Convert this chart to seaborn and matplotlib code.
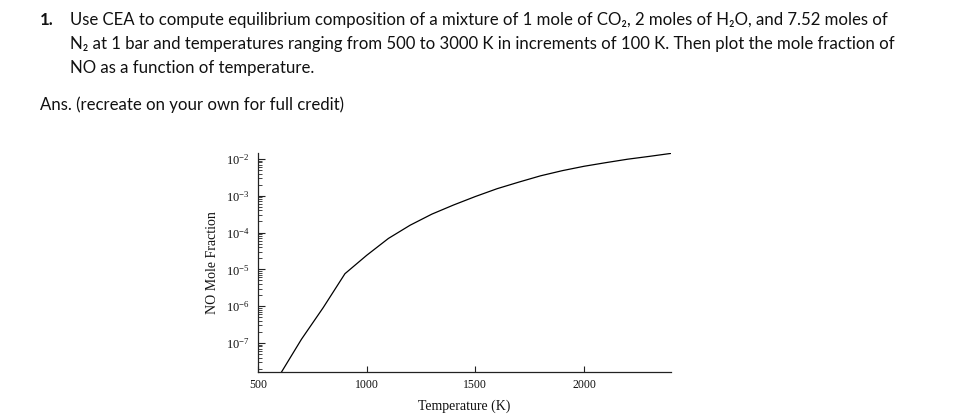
import matplotlib
matplotlib.use("Agg")
import matplotlib.pyplot as plt
import matplotlib.ticker as mticker
import seaborn as sns
import pandas as pd

# ---- data ----
temperature_K = [600, 700, 800, 900, 1000, 1100, 1200, 1300, 1400, 1500,
                 1600, 1700, 1800, 1900, 2000, 2100, 2200, 2300, 2400]
no_mole_fraction = [1.35e-8, 1.26e-7, 9.1e-7, 7.6e-6, 2.4e-5, 6.9e-5, 1.58e-4,
                    3.16e-4, 5.6e-4, 9.5e-4, 1.55e-3, 2.34e-3, 3.47e-3, 4.79e-3,
                    6.3e-3, 7.9e-3, 9.8e-3, 1.17e-2, 1.41e-2]
x_ticks = [500, 1000, 1500, 2000]
y_ticks = [1e-7, 1e-6, 1e-5, 1e-4, 1e-3, 1e-2]

question_lines = [
    "Use CEA to compute equilibrium composition of a mixture of 1 mole of CO\u2082, 2 moles of H\u2082O, and 7.52 moles of",
    "N\u2082 at 1 bar and temperatures ranging from 500 to 3000 K in increments of 100 K. Then plot the mole fraction of",
    "NO as a function of temperature.",
]
answer_line = "Ans. (recreate on your own for full credit)"

sns.set_style("ticks")
plt.rcParams["font.family"] = ["Lato", "DejaVu Sans"]
plt.rcParams["mathtext.fontset"] = "custom"
plt.rcParams["mathtext.rm"] = "Liberation Serif"
plt.rcParams["mathtext.it"] = "Liberation Serif:italic"
plt.rcParams["mathtext.bf"] = "Liberation Serif:bold"

W, H = 963, 420
fig = plt.figure(figsize=(W / 100, H / 100), dpi=100)
fig.patch.set_facecolor("white")

def fy(y):
    return 1 - y / H

# ---- document text ----
text_fam = ["Lato", "DejaVu Sans"]
fs = 13.5
tc = "#111111"
t_num = fig.text(40 / W, fy(25), "1.", fontsize=fs, fontweight="bold", family=text_fam, va="baseline", color=tc)
t1 = fig.text(70 / W, fy(25), question_lines[0], fontsize=fs, family=text_fam, va="baseline", color=tc)
t2 = fig.text(70 / W, fy(49), question_lines[1], fontsize=fs, family=text_fam, va="baseline", color=tc)
t3 = fig.text(70 / W, fy(72.5), question_lines[2], fontsize=fs, family=text_fam, va="baseline", color=tc)
t4 = fig.text(40 / W, fy(110), answer_line, fontsize=fs, family=text_fam, va="baseline", color=tc)

fig.canvas.draw()
r = fig.canvas.get_renderer()
w1 = t1.get_window_extent(r).width
scale = 817.0 / w1
for t in (t_num, t1, t2, t3, t4):
    t.set_fontsize(fs * scale)

# ---- chart ----
ax = fig.add_axes([258 / W, (H - 372) / H, (671 - 258) / W, 219 / H])
df = pd.DataFrame({"Temperature (K)": temperature_K, "NO Mole Fraction": no_mole_fraction})
sns.lineplot(data=df, x="Temperature (K)", y="NO Mole Fraction", ax=ax,
             color="black", linewidth=0.9)
ax.set_yscale("log")
ax.set_xlim(500, 2400)
ax.set_ylim(10 ** -7.79, 10 ** -1.84)

serif = "Liberation Serif"
ax.set_xticks(x_ticks)
ax.set_xticklabels([str(v) for v in x_ticks], family=serif, fontsize=8.5)
ax.yaxis.set_major_locator(mticker.FixedLocator(y_ticks))
ax.yaxis.set_major_formatter(mticker.LogFormatterSciNotation())
ax.yaxis.set_minor_locator(mticker.LogLocator(base=10, subs=[2, 3, 4, 5, 6, 7, 8, 9], numticks=20))
ax.yaxis.set_minor_formatter(mticker.NullFormatter())
for lab in ax.get_yticklabels():
    lab.set_family(serif)
    lab.set_fontsize(9)

ax.tick_params(axis="x", which="major", direction="in", length=4, width=0.8, pad=5, colors="#222222")
ax.tick_params(axis="y", which="major", direction="in", length=5, width=0.8, pad=6, colors="#222222")
ax.tick_params(axis="y", which="minor", direction="in", length=3, width=0.6)
ax.tick_params(labelcolor="#111111")

ax.set_xlabel("Temperature (K)", family=serif, fontsize=10, labelpad=6, color="#111111")
ax.set_ylabel("NO Mole Fraction", family=serif, fontsize=10, labelpad=5, color="#111111")
sns.despine(ax=ax)
for s in ("left", "bottom"):
    ax.spines[s].set_linewidth(0.9)
    ax.spines[s].set_color("#222222")
ax.set_facecolor("white")

fig.savefig("out.png", dpi=100, facecolor="white")
